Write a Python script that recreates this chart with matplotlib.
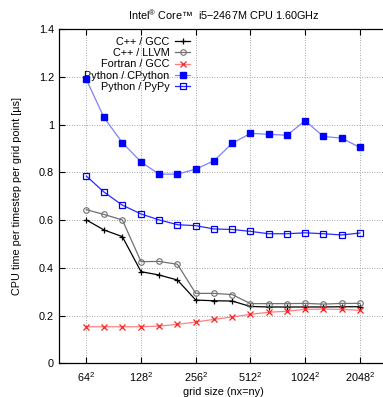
import matplotlib
matplotlib.use("Agg")
import matplotlib.pyplot as plt
from matplotlib.ticker import FixedLocator, NullLocator

plt.rcParams['font.family'] = ['Liberation Sans', 'DejaVu Sans']
plt.rcParams['mathtext.fontset'] = 'custom'
plt.rcParams['mathtext.rm'] = 'Liberation Sans'
plt.rcParams['mathtext.it'] = 'Liberation Sans'

# grid size n (grid is n x n)
grid_n = [64, 80, 101, 128, 161, 203, 256, 323, 406, 512, 645, 813, 1024, 1290, 1625, 2048]

# CPU time per timestep per grid point [us]
cpp_gcc = [0.601, 0.559, 0.531, 0.384, 0.370, 0.349, 0.265, 0.262, 0.261, 0.238,
           0.236, 0.236, 0.236, 0.236, 0.237, 0.237]
cpp_llvm = [0.644, 0.624, 0.601, 0.426, 0.427, 0.415, 0.293, 0.293, 0.288, 0.250,
            0.250, 0.250, 0.251, 0.248, 0.251, 0.251]
fortran_gcc = [0.153, 0.153, 0.153, 0.153, 0.156, 0.163, 0.173, 0.184, 0.194, 0.205,
               0.214, 0.218, 0.226, 0.227, 0.226, 0.222]
py_cpython = [1.190, 1.031, 0.925, 0.844, 0.793, 0.793, 0.814, 0.849, 0.922, 0.964,
              0.960, 0.956, 1.017, 0.951, 0.944, 0.905]
py_pypy = [0.785, 0.718, 0.663, 0.626, 0.601, 0.581, 0.577, 0.563, 0.561, 0.553,
           0.543, 0.543, 0.547, 0.543, 0.538, 0.546]

xticks = [64, 128, 256, 512, 1024, 2048]
yticks = [0, 0.2, 0.4, 0.6, 0.8, 1.0, 1.2, 1.4]
ytick_labels = ['0', '0.2', '0.4', '0.6', '0.8', '1', '1.2', '1.4']

fs = 7.8

fig = plt.figure(figsize=(3.83, 3.97), dpi=100)
# right edge of the axes lies just outside the picture, as in the original
ax = fig.add_axes([0.154, 0.085, 0.857, 0.841])

lw = 0.9
ax.plot(grid_n, cpp_gcc, color='black', lw=lw, marker='+', ms=5, mew=0.9,
        label='C++ / GCC')
ax.plot(grid_n, cpp_llvm, color='#707070', lw=lw, marker='o', ms=4, mew=0.8,
        mfc='none', label='C++ / LLVM')
ax.plot(grid_n, fortran_gcc, color='#ff8080', lw=lw, marker='x', ms=4, mew=0.9,
        mec='#ff2020', label='Fortran / GCC')
ax.plot(grid_n, py_cpython, color='#8080ff', lw=lw, marker='s', ms=4.4,
        mfc='#0000ff', mec='#0000ff', label='Python / CPython')
ax.plot(grid_n, py_pypy, color='#2a2aff', lw=lw, marker='s', ms=4.4, mew=0.9,
        mfc='none', mec='#0000ff', label='Python / PyPy')

ax.set_xscale('log', base=2)
ax.set_xlim(64 / 2 ** 0.5, 2048 * 2 ** 0.5)
ax.set_ylim(0, 1.4)
ax.xaxis.set_major_locator(FixedLocator(xticks))
ax.xaxis.set_minor_locator(NullLocator())
ax.set_xticklabels([f'${n}^{{2}}$' for n in xticks])
ax.set_yticks(yticks)
ax.set_yticklabels(ytick_labels)

ax.tick_params(direction='in', length=4, width=0.8, labelsize=fs,
               top=True, right=False, color='black')
ax.tick_params(axis='x', pad=5)
ax.grid(True, linestyle=(0, (1, 2)), color='#888888', lw=0.6)
for s in ax.spines.values():
    s.set_linewidth(0.9)
ax.spines['right'].set_visible(False)

ax.set_xlabel('grid size (nx=ny)', fontsize=fs, labelpad=2)
ax.set_ylabel('CPU time per timestep per grid point [µs]', fontsize=fs, labelpad=12)
fig.text(0.585, 0.962, 'Intel$^{\\circledR}$ Core\u2122  i5\u22122467M CPU 1.60GHz',
         ha='center', va='center', fontsize=fs)

ax.legend(loc='upper right', bbox_to_anchor=(0.40, 0.978), frameon=False,
          markerfirst=False, fontsize=fs, handlelength=1.4, handletextpad=0.5,
          labelspacing=0.12, borderpad=0, borderaxespad=0)

fig.savefig('out.png', dpi=100)
